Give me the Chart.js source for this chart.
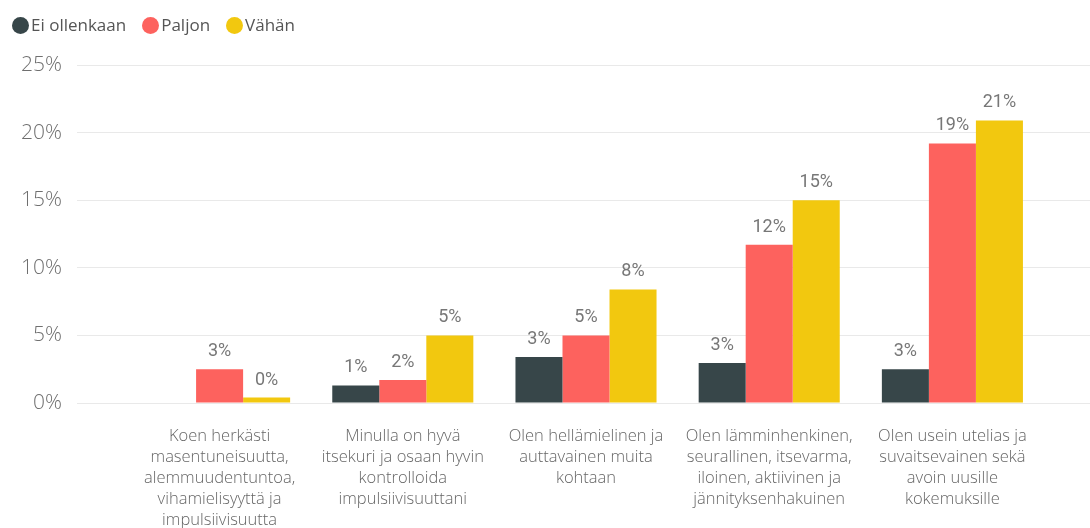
<!DOCTYPE html>
<html>
<head>
<meta charset="utf-8">
<script src="https://cdn.jsdelivr.net/npm/chart.js@4.4.1/dist/chart.umd.min.js"></script>
<style>
  html, body { margin: 0; padding: 0; background: #ffffff; }
  #wrap { width: 1090px; height: 528px; position: relative; }
  #legend { position: absolute; left: 12px; top: 13px; display: flex; align-items: center;
            font-family: 'Open Sans', sans-serif; font-size: 17px; color: #555; font-weight: 400; }
  #legend .item { display: flex; align-items: center; margin-right: 16px; }
  #legend .dot { width: 17px; height: 17px; border-radius: 50%; margin-right: 2px; }
  #legend span.t { line-height: 24px; }
</style>
</head>
<body>
<div id="wrap"><canvas id="c" width="1090" height="528"></canvas><div id="legend"></div></div>
<script>
const categories = [
  ["Koen herkästi", "masentuneisuutta,", "alemmuudentuntoa,", "vihamielisyyttä ja", "impulsiivisuutta"],
  ["Minulla on hyvä", "itsekuri ja osaan hyvin", "kontrolloida", "impulsiivisuuttani"],
  ["Olen hellämielinen ja", "auttavainen muita", "kohtaan"],
  ["Olen lämminhenkinen,", "seurallinen, itsevarma,", "iloinen, aktiivinen ja", "jännityksenhakuinen"],
  ["Olen usein utelias ja", "suvaitsevainen sekä", "avoin uusille", "kokemuksille"]
];
const seriesNames = ["Ei ollenkaan", "Paljon", "Vähän"];
const eiOllenkaan = [null, 1.3, 3.4, 2.95, 2.5];
const paljon = [2.5, 1.7, 5.0, 11.7, 19.2];
const vahan = [0.4, 5.0, 8.4, 15.0, 20.9];
const yTicks = [0, 5, 10, 15, 20, 25];

const colors = ["#374649", "#FD625E", "#F2C80F"];
const gridColor = "#e9e9e9";

// HTML legend built from series names and colours
const legendEl = document.getElementById('legend');
seriesNames.forEach((name, i) => {
  const item = document.createElement('div');
  item.className = 'item';
  const dot = document.createElement('div');
  dot.className = 'dot';
  dot.style.background = colors[i];
  const t = document.createElement('span');
  t.className = 't';
  t.textContent = name;
  item.appendChild(dot);
  item.appendChild(t);
  legendEl.appendChild(item);
});

const dataLabels = {
  id: 'dataLabels',
  afterDatasetsDraw(chart) {
    const ctx = chart.ctx;
    ctx.save();
    ctx.font = '18px Roboto';
    ctx.fillStyle = '#777777';
    ctx.textAlign = 'center';
    ctx.textBaseline = 'alphabetic';
    chart.data.datasets.forEach((ds, i) => {
      const meta = chart.getDatasetMeta(i);
      meta.data.forEach((el, j) => {
        const v = ds.data[j];
        if (v === null || v === undefined) return;
        ctx.fillText(Math.round(v) + '%', el.x, el.y - 13);
      });
    });
    ctx.restore();
  }
};

new Chart(document.getElementById('c'), {
  type: 'bar',
  data: {
    labels: categories,
    datasets: [
      { label: seriesNames[0], data: eiOllenkaan, backgroundColor: colors[0] },
      { label: seriesNames[1], data: paljon, backgroundColor: colors[1] },
      { label: seriesNames[2], data: vahan, backgroundColor: colors[2] }
    ]
  },
  options: {
    responsive: false,
    animation: false,
    layout: { padding: { top: 65, left: 0, right: 0, bottom: -18 } },
    datasets: { bar: { categoryPercentage: 0.77, barPercentage: 1.0 } },
    plugins: {
      legend: { display: false },
      tooltip: { enabled: false }
    },
    scales: {
      x: {
        grid: { display: false },
        border: { display: false },
        ticks: {
          color: '#666666',
          padding: 15,
          maxRotation: 0,
          autoSkip: false,
          font: { family: 'Open Sans', size: 16.5, weight: '300', lineHeight: '21px' }
        }
      },
      y: {
        min: 0,
        max: 25,
        border: { display: false },
        grid: { color: gridColor, tickLength: 51, lineWidth: 1 },
        afterBuildTicks(scale) { scale.ticks = yTicks.map(v => ({ value: v })); },
        afterFit(scale) { scale.width = 128; },
        ticks: {
          padding: 15,
          color: '#6f6f6f',
          font: { family: 'Open Sans', size: 21, weight: '300' },
          callback: v => v + '%'
        }
      },
      y2: {
        position: 'right',
        min: 0,
        max: 25,
        border: { display: false },
        grid: { color: gridColor, tickLength: 46, drawOnChartArea: false },
        afterBuildTicks(scale) { scale.ticks = yTicks.map(v => ({ value: v })); },
        ticks: { display: false }
      }
    }
  },
  plugins: [dataLabels]
});
</script>
</body>
</html>
